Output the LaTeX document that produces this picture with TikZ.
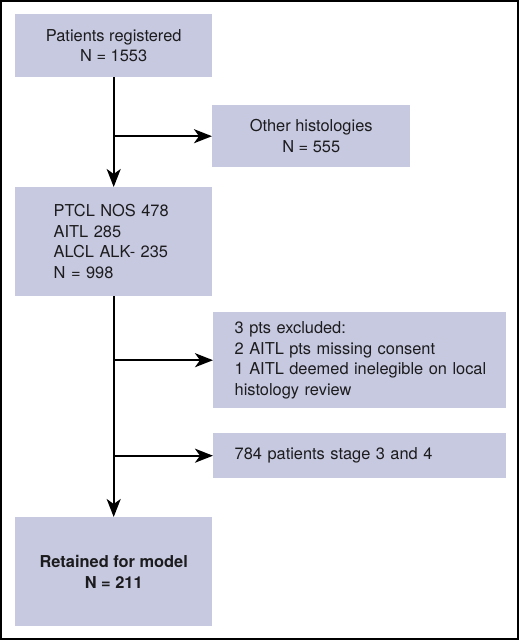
\documentclass[tikz,border=0pt]{standalone}
\usepackage{fontspec}
\setmainfont{TeX Gyre Heros}
\usetikzlibrary{arrows.meta}
\definecolor{boxfill}{RGB}{198,201,224}
\definecolor{inkgray}{RGB}{28,28,30}
\begin{document}
\begin{tikzpicture}[x=1pt, y=-1pt,
  every node/.style={font=\fontsize{16.4}{20.5}\selectfont, text=inkgray},
  box/.style={fill=boxfill, inner sep=0pt, minimum width=197pt, align=center, anchor=north west},
  listbox/.style={fill=boxfill, inner xsep=38.5pt, inner ysep=0pt, text width=120pt, minimum height=109pt, align=left, anchor=north west},
  sidebox/.style={fill=boxfill, inner xsep=21.5pt, inner ysep=0pt, text width=250pt, align=left, anchor=north west},
  arr/.style={line width=2pt, -{Stealth[length=18pt, width=14pt, inset=5pt]}}]
\useasboundingbox (0,0) rectangle (520,641);
\draw[line width=1.5pt] (1,1) rectangle (518,639);
% main column
\node[box, minimum height=63pt] (reg) at (15,14) {Patients registered\\N = 1553};
\node[listbox] (ptcl) at (15,187) {PTCL NOS 478\\AITL 285\\ALCL ALK- 235\\N = 998};
\node[box, minimum height=109pt, font=\fontsize{16.4}{20.5}\selectfont\bfseries] (model) at (15,517) {Retained for model\\N = 211};
% exclusions
\node[box, minimum width=198pt, minimum height=62pt] (other) at (212,105) {Other histologies\\N = 555};
\node[sidebox, minimum height=96pt] (excl) at (213,312) {3 pts excluded:\\2 AITL pts missing consent\\\mbox{1 AITL deemed inelegible on local}\\histology review};
\node[sidebox, minimum height=45pt] (stage) at (213,433) {784 patients stage 3 and 4};
\draw[arr] (reg) -- (ptcl);
\draw[arr] (reg.south |- other.west) -- (other.west);
\draw[arr] (ptcl) -- (model);
\draw[arr] (ptcl.south |- excl.west) -- (excl.west);
\draw[arr] (ptcl.south |- stage.west) -- (stage.west);
\end{tikzpicture}
\end{document}
